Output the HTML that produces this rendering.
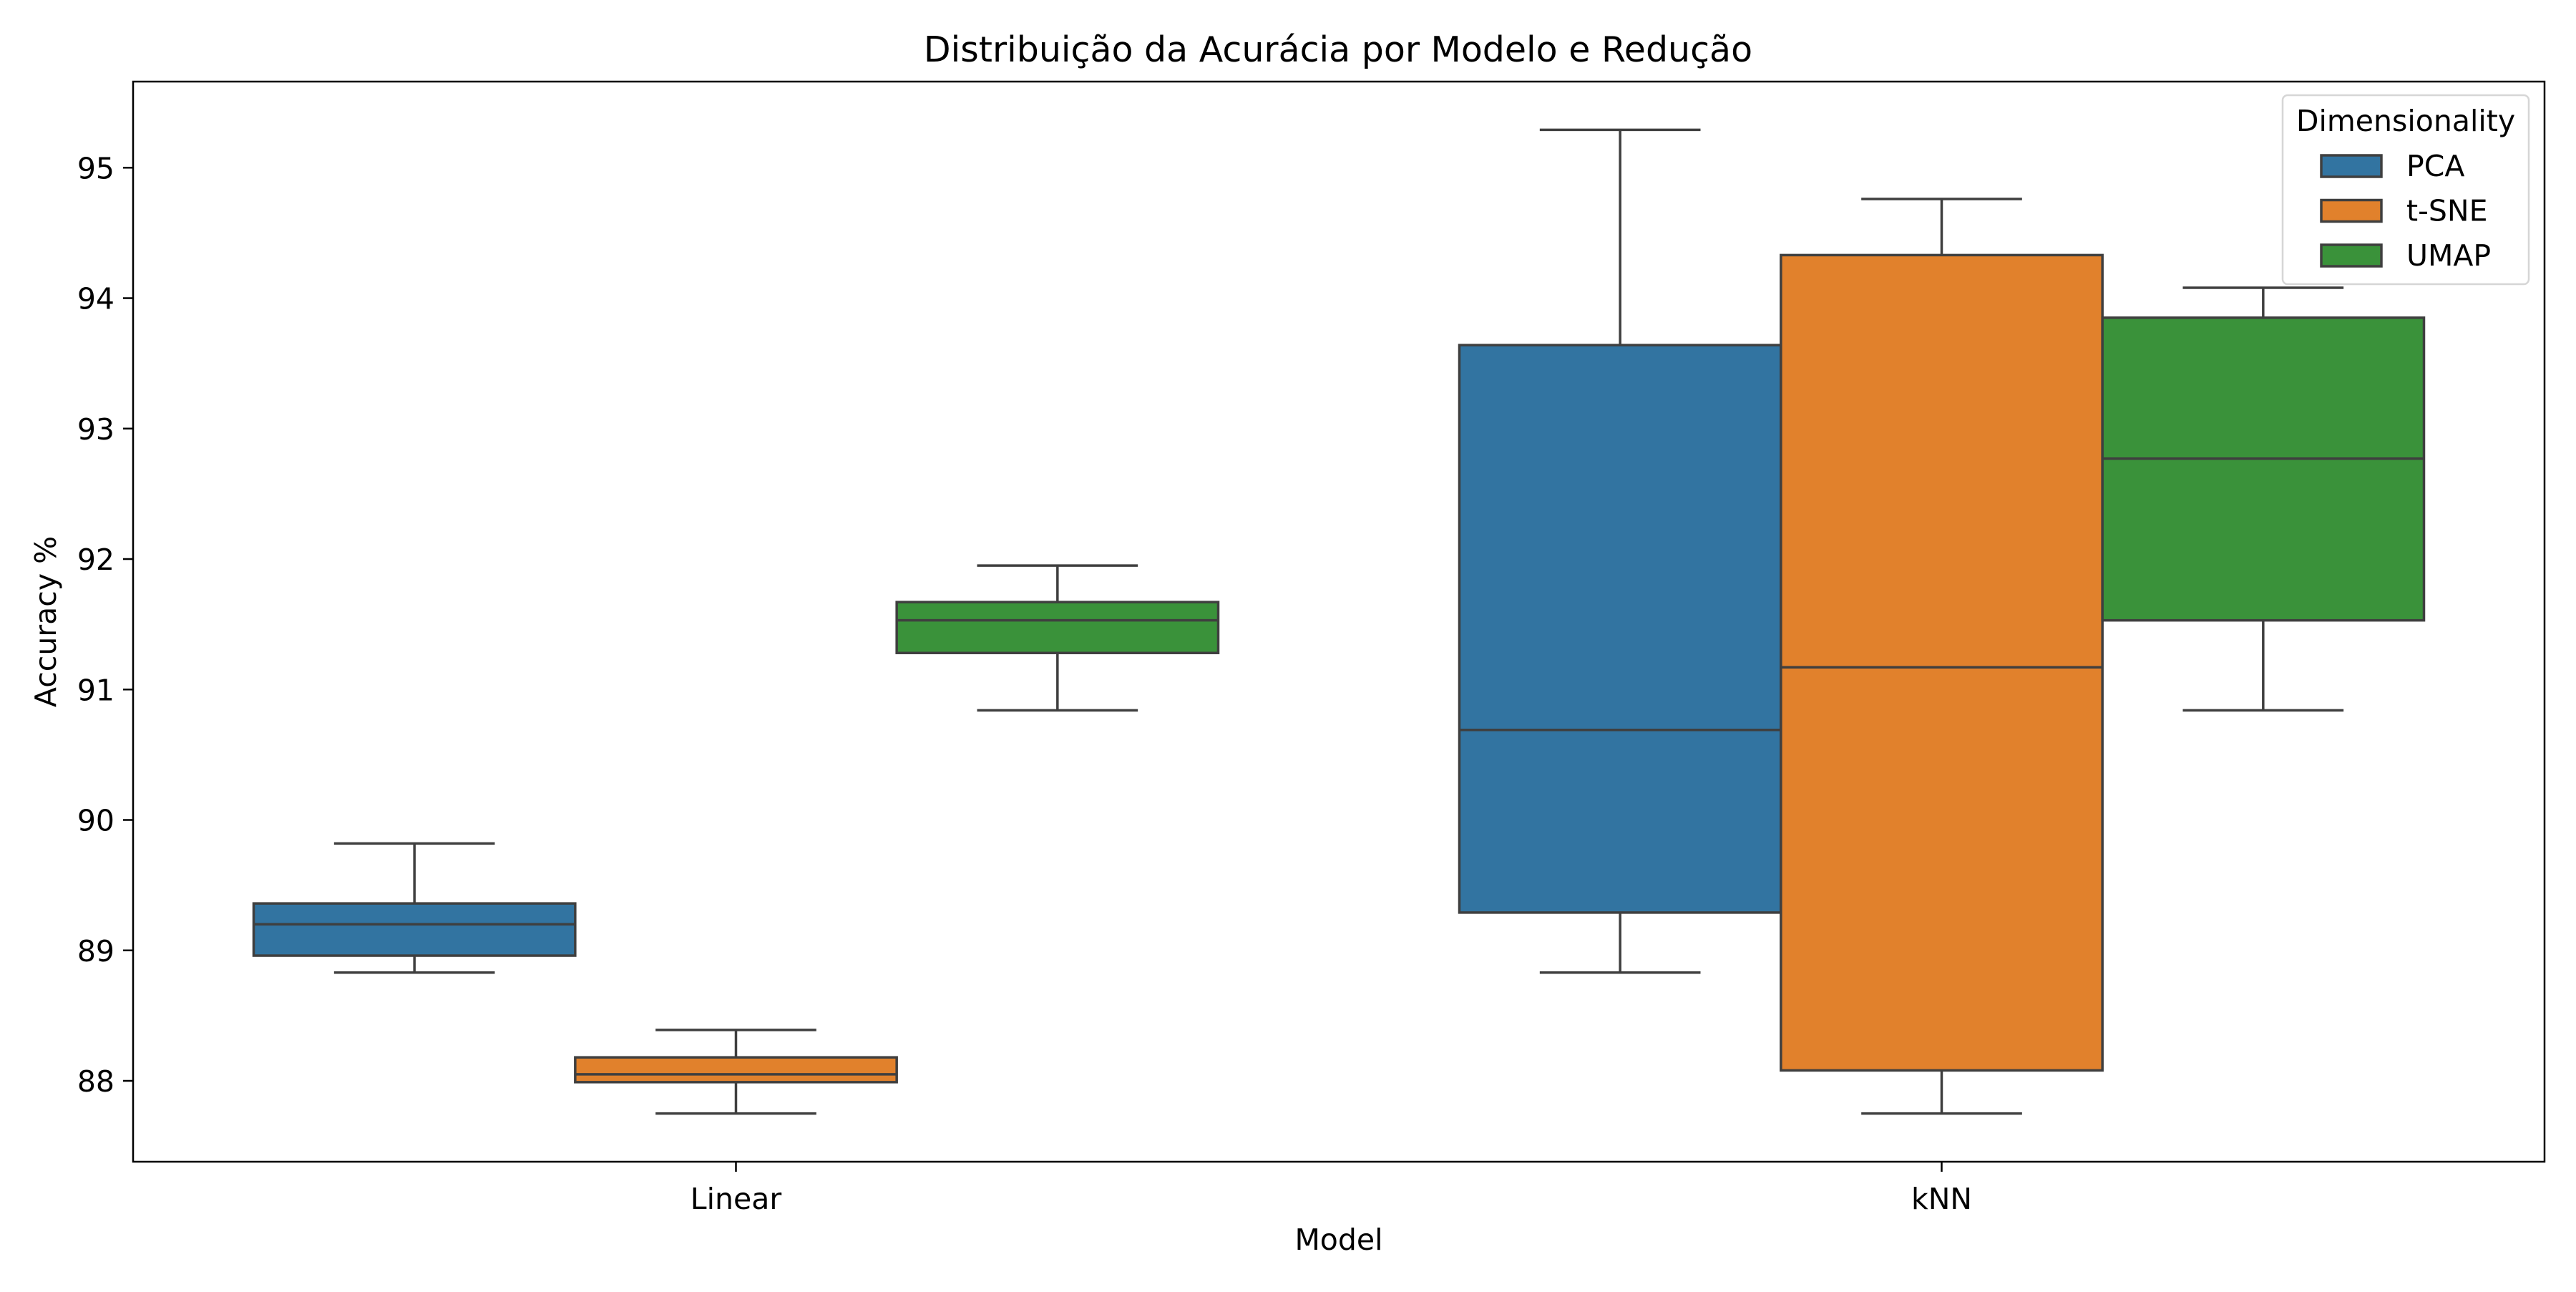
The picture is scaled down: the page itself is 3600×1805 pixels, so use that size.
<!DOCTYPE html>
<html><head><meta charset="utf-8"><style>
body{margin:0;background:#fff}
svg text{font-family:"DejaVu Sans","Liberation Sans",sans-serif;fill:#000}
</style></head><body>
<svg id="chart" width="3600" height="1800" xmlns="http://www.w3.org/2000/svg">
<rect width="3600" height="1800" fill="#fff"/>
<text x="1870" y="86" font-size="49" text-anchor="middle">Distribuição da Acurácia por Modelo e Redução</text>
<g id="plot"></g>
</svg>
<script>
const categories = ["Linear", "kNN"];
const hues = ["PCA", "t-SNE", "UMAP"];
const lowWhisker = [[88.83, 87.75, 90.84], [88.83, 87.75, 90.84]];
const q1 = [[88.96, 87.99, 91.28], [89.29, 88.08, 91.53]];
const medians = [[89.20, 88.05, 91.53], [90.69, 91.17, 92.77]];
const q3 = [[89.36, 88.18, 91.67], [93.64, 94.33, 93.85]];
const highWhisker = [[89.82, 88.39, 91.95], [95.29, 94.76, 94.08]];
const yTicks = [88, 89, 90, 91, 92, 93, 94, 95];

const colors = ["#3274a1", "#e1812c", "#3a923a"];
const L = 186, R = 3556, T = 114, B = 1623;
const yMin = 87.38, yMax = 95.66;
const y = v => B - (v - yMin) / (yMax - yMin) * (B - T);
const catW = (R - L) / categories.length;
const x = i => L + catW * (i + 0.5);
const boxW = catW * 0.8 / hues.length;
const NS = "http://www.w3.org/2000/svg";
const g = document.getElementById("plot");
function mk(tag, attrs, parent) {
  const e = document.createElementNS(NS, tag);
  for (const k in attrs) e.setAttribute(k, attrs[k]);
  (parent || g).appendChild(e);
  return e;
}
const line = "#3f3f3f", lw = 3.5;
categories.forEach((c, i) => {
  hues.forEach((h, j) => {
    const cx = x(i) + (j - 1) * boxW;
    const grp = mk("g", {});
    
    
    mk("line", {x1: cx, x2: cx, y1: y(highWhisker[i][j]), y2: y(q3[i][j]), stroke: line, "stroke-width": lw}, grp);
    mk("line", {x1: cx, x2: cx, y1: y(lowWhisker[i][j]), y2: y(q1[i][j]), stroke: line, "stroke-width": lw}, grp);
    mk("line", {x1: cx - boxW / 4, x2: cx + boxW / 4, y1: y(highWhisker[i][j]), y2: y(highWhisker[i][j]), stroke: line, "stroke-width": lw}, grp);
    mk("line", {x1: cx - boxW / 4, x2: cx + boxW / 4, y1: y(lowWhisker[i][j]), y2: y(lowWhisker[i][j]), stroke: line, "stroke-width": lw}, grp);
    mk("rect", {x: cx - boxW / 2, y: y(q3[i][j]), width: boxW, height: y(q1[i][j]) - y(q3[i][j]), fill: colors[j], stroke: line, "stroke-width": lw}, grp);
    mk("line", {x1: cx - boxW / 2, x2: cx + boxW / 2, y1: y(medians[i][j]), y2: y(medians[i][j]), stroke: line, "stroke-width": lw}, grp);
  });
  const t = mk("text", {x: x(i), y: 1689, "font-size": 41, "text-anchor": "middle"});
  t.textContent = c;
  
  
  mk("line", {x1: x(i), x2: x(i), y1: B, y2: B + 14, stroke: "#000", "stroke-width": 2.5});
});
yTicks.forEach(v => {
  mk("line", {x1: L - 14, x2: L, y1: y(v), y2: y(v), stroke: "#000", "stroke-width": 2.5});
  const t = mk("text", {x: L - 26, y: y(v) + 15, "font-size": 41, "text-anchor": "end"});
  t.textContent = v;
  
  
});
const frame = mk("rect", {x: L, y: T, width: R - L, height: B - T, fill: "none", stroke: "#000", "stroke-width": 2.5});


const xl = mk("text", {x: (L + R) / 2, y: 1746, "font-size": 41, "text-anchor": "middle"});
xl.textContent = "Model";


const yl = mk("text", {x: 0, y: 0, "font-size": 41, "text-anchor": "middle", transform: "translate(78," + ((T + B) / 2) + ") rotate(-90)"});
yl.textContent = "Accuracy %";


// legend
const lg = mk("g", {});


mk("rect", {x: 3190, y: 133, width: 344, height: 264, rx: 7, fill: "#fff", "fill-opacity": 0.8, stroke: "#d6d6d6", "stroke-width": 2.5}, lg);
const lt = mk("text", {x: 3362, y: 183, "font-size": 41, "text-anchor": "middle"}, lg);
lt.textContent = "Dimensionality";
hues.forEach((h, j) => {
  const cy = 232 + j * 62.5;
  const e = mk("g", {}, lg);
  
  
  mk("rect", {x: 3244, y: cy - 15, width: 84, height: 30, fill: colors[j], stroke: line, "stroke-width": 3.5}, e);
  const t = mk("text", {x: 3363, y: cy + 14, "font-size": 41}, e);
  t.textContent = h;
});
</script>
</body></html>
